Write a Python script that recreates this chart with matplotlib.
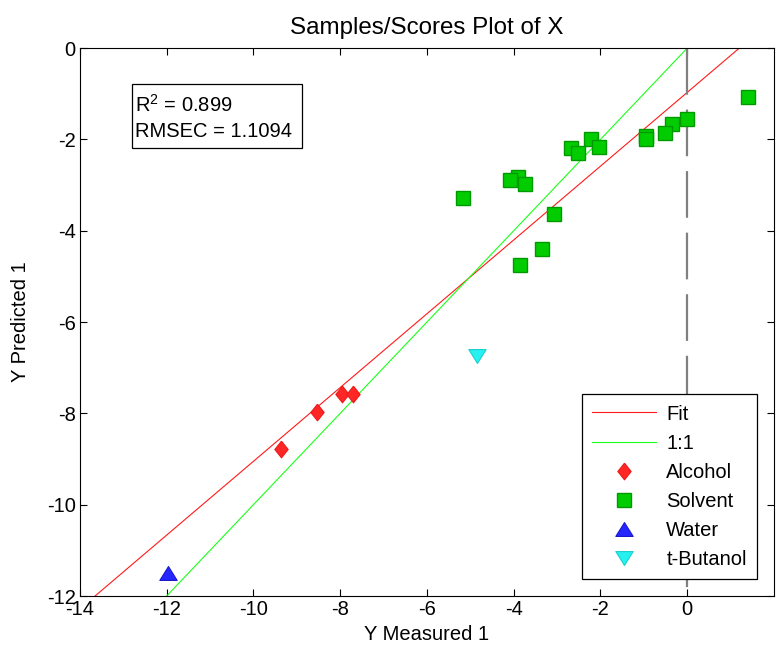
import matplotlib.pyplot as plt
from matplotlib.patches import Rectangle
import numpy as np

plt.rcParams['font.family'] = ['Liberation Sans', 'DejaVu Sans']
plt.rcParams['font.size'] = 14.5
plt.rcParams['axes.unicode_minus'] = False

# measured / predicted values
alcohol_x = [-9.37, -8.53, -7.96, -7.71]
alcohol_y = [-8.77, -7.98, -7.58, -7.58]

solvent_x = [1.39, 0.0, -0.34, -0.52, -0.96, -0.96, -2.21, -2.03, -2.69, -2.51,
             -3.90, -4.09, -3.75, -5.18, -3.06, -3.35, -3.86]
solvent_y = [-1.08, -1.56, -1.67, -1.85, -1.92, -1.98, -2.00, -2.16, -2.19, -2.30,
             -2.82, -2.89, -2.97, -3.28, -3.63, -4.41, -4.76]

water_x = [-11.96]
water_y = [-11.49]

butanol_x = [-4.85]
butanol_y = [-6.75]

fit_slope = 0.808
fit_icpt = -0.97
r2 = 0.899
rmsec = 1.1094

# marker shapes (matlab style diamond / triangles)
diamond = [(0, 1), (0.8, 0), (0, -1), (-0.8, 0), (0, 1)]
tri_up = [(0, 0.8), (1, -0.8), (-1, -0.8), (0, 0.8)]
tri_down = [(0, -0.8), (1, 0.8), (-1, 0.8), (0, -0.8)]

fig = plt.figure(figsize=(7.83, 6.5), dpi=100)
ax = fig.add_axes([0.102, 0.083, 0.8865, 0.843])

xx = np.array([-14.0, 2.0])
ax.plot(xx, fit_slope * xx + fit_icpt, color='#ff1a1a', lw=0.8, label='Fit')
ax.plot([-12, 0], [-12, 0], color='#1aff1a', lw=0.8, label='1:1')
ax.plot([0, 0], [0, -12], color='#808080', lw=1.6, dashes=(21, 6.7))

ax.plot(alcohol_x, alcohol_y, marker=diamond, color='#ff2626', mec='#ee1a1a', mew=0.8,
        ms=12, ls='none', label='Alcohol')
ax.plot(solvent_x, solvent_y, 's', color='#00cc00', mec='#009a00', mew=1.0,
        ms=9.5, ls='none', label='Solvent')
ax.plot(water_x, water_y, marker=tri_up, color='#2626ff', mec='#1a1acc', mew=0.8,
        ms=12.5, ls='none', label='Water')
ax.plot(butanol_x, butanol_y, marker=tri_down, color='#26f0f0', mec='#1ad0d0', mew=0.8,
        ms=12.5, ls='none', label='t-Butanol')

ax.set_xlim(-14, 2)
ax.set_ylim(-12, 0)
ax.set_xticks(range(-14, 1, 2))
ax.set_yticks(range(-12, 1, 2))
ax.tick_params(direction='in', top=True, right=True, length=5, width=0.8, pad=3)

ax.set_title('Samples/Scores Plot of X', pad=10)
ax.set_xlabel('Y Measured 1', labelpad=4)
ax.set_ylabel('Y Predicted 1', labelpad=12)

# stats box
ax.add_patch(Rectangle((0.075, 0.8175), 0.245, 0.117, transform=ax.transAxes,
                       fc='white', ec='black', lw=0.9, zorder=4))
ax.text(0.0795, 0.874, '$\\mathregular{R^2}$ = %.3f\nRMSEC = %.4f' % (r2, rmsec),
        transform=ax.transAxes, va='center', ha='left', linespacing=1.4, zorder=5)

leg = ax.legend(loc='lower right', fancybox=False, framealpha=1, edgecolor='black',
                borderaxespad=0.85, handlelength=3.2, labelspacing=0.5,
                handletextpad=0.5, borderpad=0.5)
leg.get_frame().set_linewidth(0.9)

fig.savefig('out.png', dpi=100)
